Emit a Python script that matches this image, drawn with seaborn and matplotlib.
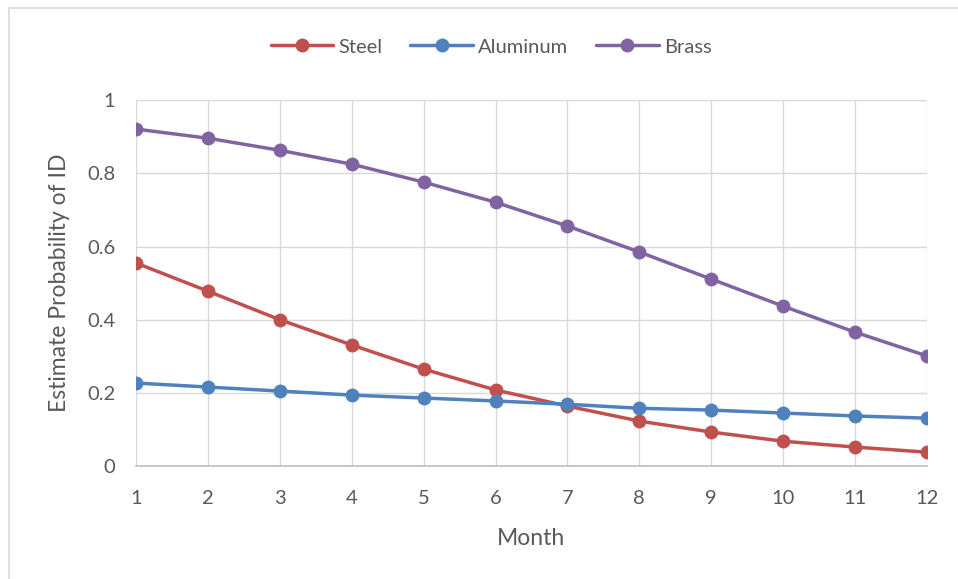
import matplotlib
matplotlib.use("Agg")
import matplotlib.pyplot as plt
import seaborn as sns
import pandas as pd
from matplotlib.patches import Rectangle

months = list(range(1, 13))
steel = [0.555, 0.478, 0.400, 0.331, 0.265, 0.208, 0.164, 0.123, 0.093, 0.068, 0.052, 0.038]
aluminum = [0.227, 0.216, 0.205, 0.194, 0.186, 0.178, 0.169, 0.158, 0.153, 0.145, 0.137, 0.131]
brass = [0.921, 0.896, 0.863, 0.825, 0.776, 0.721, 0.656, 0.585, 0.511, 0.437, 0.366, 0.301]
series_names = ["Steel", "Aluminum", "Brass"]
y_ticks = [0, 0.2, 0.4, 0.6, 0.8, 1]
y_tick_labels = ["0", "0.2", "0.4", "0.6", "0.8", "1"]

colors = {"Steel": "#C0504D", "Aluminum": "#4F81BD", "Brass": "#8064A2"}
text_color = "#595959"

df = pd.DataFrame({
    "Month": months * 3,
    "Value": steel + aluminum + brass,
    "Series": ["Steel"] * 12 + ["Aluminum"] * 12 + ["Brass"] * 12,
})

sns.set_theme(style="white")
plt.rcParams["font.family"] = ["Lato", "DejaVu Sans"]

fig = plt.figure(figsize=(9.58, 5.79), dpi=100)
ax = fig.add_axes([0.142, 0.195, 0.8256, 0.632])

sns.lineplot(data=df, x="Month", y="Value", hue="Series", hue_order=series_names,
             palette=colors, marker="o", markersize=10, markeredgewidth=0,
             linewidth=2.5, ax=ax, legend=True)

ax.set_xlim(1, 12)
ax.set_ylim(0, 1)
ax.set_xticks(months)
ax.set_xticklabels([str(m) for m in months])
ax.set_yticks(y_ticks)
ax.set_yticklabels(y_tick_labels)
ax.grid(True, color="#D9D9D9", linewidth=1.0)
ax.set_axisbelow(True)
for side in ["left", "top", "right"]:
    ax.spines[side].set_visible(False)
ax.spines["bottom"].set_color("#BFBFBF")
ax.spines["bottom"].set_linewidth(1.2)
ax.tick_params(axis="both", length=0, labelsize=14.5, labelcolor=text_color)
ax.tick_params(axis="x", pad=17)
ax.tick_params(axis="y", pad=15)
ax.set_xlabel("Month", fontsize=16.5, color=text_color, labelpad=15)
ax.set_ylabel("Estimate Probability of ID", fontsize=16.5, color=text_color, labelpad=12)

handles, labels = ax.get_legend_handles_labels()
ax.legend(handles, labels, loc="center", bbox_to_anchor=(491 / 958, 1 - 47 / 579),
          bbox_transform=fig.transFigure, ncol=3, frameon=False, fontsize=14.5,
          labelcolor=text_color, handlelength=3.1, columnspacing=1.4, handletextpad=0.25)

# Chart-area border (left and top edges visible)
fig.patches.append(Rectangle((8.5 / 958, -0.1), 1.2, 1.1 - 8.5 / 579,
                             transform=fig.transFigure, fill=False,
                             edgecolor="#D9D9D9", linewidth=1.2))

fig.savefig("out.png", dpi=100, facecolor="white")
